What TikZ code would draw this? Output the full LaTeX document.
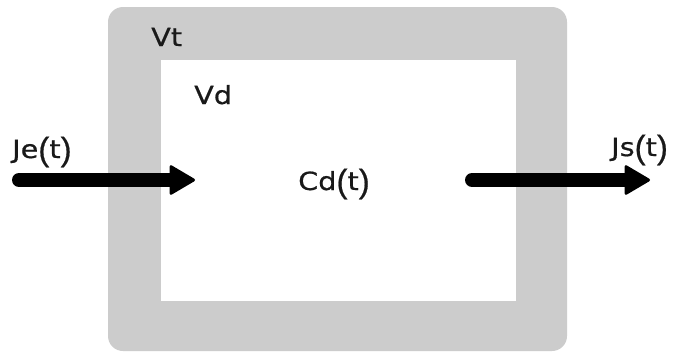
\documentclass[tikz,border=0pt]{standalone}
\usepackage{fontspec}
\setmainfont{DejaVu Sans}
\newfontfamily\lblfont[FakeStretch=1.15,FakeBold=0.6]{DejaVu Sans}
\newfontfamily\parfont[FakeBold=0.6]{Liberation Sans}
\usetikzlibrary{arrows.meta}
\newcommand{\bigt}{\raisebox{-2.5pt}{\parfont\fontsize{33}{34}\selectfont(}t\raisebox{-2.5pt}{\parfont\fontsize{33}{34}\selectfont)}}
\begin{document}
\begin{tikzpicture}[x=1pt,y=-1pt,
  lbl/.style={anchor=base west,inner sep=0pt,font=\lblfont\fontsize{25}{28}\selectfont,text=black!90},
  flow/.style={line width=14pt,line cap=round,-{Triangle[length=27pt,width=31pt,line width=3pt,round]}}]
\useasboundingbox (0,0) rectangle (676,354);
\fill[white] (0,0) rectangle (676,354);
\fill[gray!40!white,rounded corners=15pt] (108,7) rectangle (567,351);
\fill[white] (161,60) rectangle (516,301);
\node[lbl] (vt) at (151,46) {Vt};
\node[lbl] (vd) at (194,104) {Vd};
\node[lbl] (cd) at (298,190) {Cd\bigt};
\node[lbl] (je) at (12,158) {Je\bigt};
\node[lbl] (js) at (611,156) {Js\bigt};
\coordinate (a1) at (19,180);
\coordinate (a2) at (195,180);
\coordinate (b1) at (472,180);
\coordinate (b2) at (650,180);
\draw[flow] (a1) -- (a2);
\draw[flow] (b1) -- (b2);
\end{tikzpicture}
\end{document}
